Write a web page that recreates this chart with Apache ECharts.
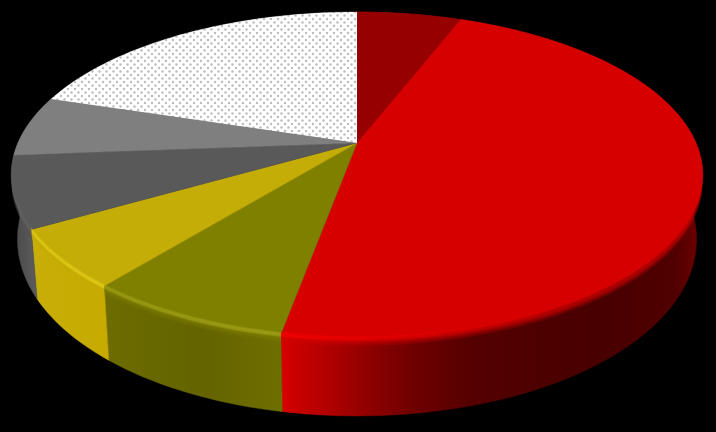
<!DOCTYPE html>
<html><head><meta charset="utf-8">
<style>html,body{margin:0;padding:0;background:#000}#c{width:716px;height:432px}</style>
<script src="https://cdn.jsdelivr.net/npm/echarts@6/dist/echarts.min.js"></script>
</head><body><div id="c"></div>
<script>
const categories = ['A','B','C','D','E','F','G'];
const values = [5.9, 47.0, 8.0, 5.8, 7.1, 6.0, 20.2];
const topColors = ['#960000','#d60000','#808000','#c5ad08','#595959','#7f7f7f',null];
const glowStops = [
  [[281,'rgba(0,0,0,0)'],[700,'rgba(0,0,0,0)']],
  [[281,'rgba(250,0,0,0.75)'],[420,'rgba(240,0,0,0.45)'],[620,'rgba(220,0,0,0)'],[703,'rgba(220,0,0,0)']],
  [[105,'rgba(170,170,30,0.55)'],[281,'rgba(170,170,30,0.65)']],
  [[32,'rgba(232,210,25,0.65)'],[110,'rgba(232,210,25,0.65)']],
  [[12,'rgba(110,110,110,0.4)'],[40,'rgba(110,110,110,0.4)']],
  [[12,'rgba(0,0,0,0)'],[40,'rgba(0,0,0,0)']],
  [[12,'rgba(0,0,0,0)'],[40,'rgba(0,0,0,0)']]
];
const wallStops = [
  [[281,'#500000'],[700,'#500000']],
  [[281,'#d80000'],[298,'#c80000'],[340,'#a80000'],[375,'#8a0000'],[415,'#6e0000'],[475,'#540000'],[600,'#480000'],[675,'#500000'],[703,'#720000']],
  [[105,'#6c6c00'],[200,'#646400'],[281,'#6e6e00']],
  [[32,'#c8ae08'],[110,'#c6aa00']],
  [[12,'#484848'],[40,'#5e5e5e']],
  [[12,'#555555'],[40,'#555555']],
  [[12,'#888888'],[40,'#888888']]
];

// perspective projection of the pie's circle
const cx = 357, cy = 143, ax = 339, by = 156.7, k = -0.196, wallScale = 0.982;
const glowFrom = Math.PI * 0.58, glowTo = Math.PI * 1.42;
function project(a) {
  const x = Math.sin(a), y = -Math.cos(a), w = 1 + k * y;
  return [cx + ax * x / w, cy + by * y / w];
}
function bottom(a) {
  const p = project(a), y = -Math.cos(a);
  return [cx + (p[0] - cx) * wallScale, p[1] + 61 + 17 * y];
}
function arc(a0, a1, fn) {
  const n = Math.max(2, Math.ceil((a1 - a0) / (Math.PI / 180))), out = [];
  for (let i = 0; i <= n; i++) out.push(fn(a0 + (a1 - a0) * i / n));
  return out;
}
function hGrad(s) {
  const x0 = s[0][0], x1 = s[s.length - 1][0];
  return new echarts.graphic.LinearGradient(x0, 0, x1, 0,
    s.map(t => ({ offset: (t[0] - x0) / (x1 - x0), color: t[1] })), true);
}

const dots = document.createElement('canvas');
dots.width = 7; dots.height = 7;
(function () {
  const g = dots.getContext('2d');
  g.fillStyle = '#ffffff'; g.fillRect(0, 0, 7, 7);
  g.fillStyle = '#bcbcbc';
  [[1.5, 1.5], [5, 5]].forEach(p => { g.beginPath(); g.arc(p[0], p[1], 1.2, 0, 7); g.fill(); });
})();

const total = values.reduce((s, v) => s + v, 0);
let run = 0;
const rows = values.map((v, i) => { const r = [i, run, v]; run += v; return r; });
const angle = p => p / total * Math.PI * 2;

function renderWall(params, api) {
  const i = api.value(0), a0 = angle(api.value(1)), a1 = a0 + angle(api.value(2));
  const pts = arc(a0, a1, project).concat(arc(a0, a1, bottom).reverse());
  const fill = hGrad(wallStops[i]);
  return { type: 'polygon', shape: { points: pts }, style: { fill: fill, stroke: fill, lineWidth: 0.5 } };
}
function renderTop(params, api) {
  const i = api.value(0), a0 = angle(api.value(1)), a1 = a0 + angle(api.value(2));
  const pts = [[cx, cy]].concat(arc(a0, a1, project));
  const c = topColors[i];
  const style = c ? { fill: c, stroke: c, lineWidth: 0.5 } : { fill: { image: dots, repeat: 'repeat' } };
  return { type: 'polygon', shape: { points: pts }, style: style };
}
function renderGlow(params, api) {
  const i = api.value(0), a0 = angle(api.value(1)), a1 = a0 + angle(api.value(2));
  const lo = Math.max(a0, glowFrom), hi = Math.min(a1, glowTo);
  if (hi <= lo || !topColors[i]) return { type: 'group', children: [] };
  const rim = d => arc(lo, hi, a => { const p = project(a); return [p[0], p[1] + d]; });
  const band = (d0, d1) => rim(d0).concat(rim(d1).reverse());
  const base = topColors[i];
  const soft = (d0, d1, op) => ({ type: 'polygon', shape: { points: band(d0, d1) }, style: { fill: base, opacity: op } });
  return { type: 'group', children: [
    soft(0, 8, 0.22), soft(0, 6, 0.3), soft(0, 4, 0.4),
    { type: 'polygon', shape: { points: band(-2, 3) }, style: { fill: hGrad(glowStops[i]), opacity: 0.55 } },
    { type: 'polygon', shape: { points: band(-1, 2) }, style: { fill: hGrad(glowStops[i]), opacity: 0.7 } }
  ] };
}

const chart = echarts.init(document.getElementById('c'), null, { renderer: 'canvas' });
chart.setOption({
  backgroundColor: '#000000',
  animation: false,
  tooltip: { show: false },
  series: [
    { type: 'custom', coordinateSystem: 'none', z: 1, data: rows, renderItem: renderWall, silent: true },
    { type: 'custom', coordinateSystem: 'none', z: 2, data: rows, renderItem: renderTop, silent: true },
    { type: 'custom', coordinateSystem: 'none', z: 3, data: rows, renderItem: renderGlow, silent: true }
  ]
});
</script></body></html>
